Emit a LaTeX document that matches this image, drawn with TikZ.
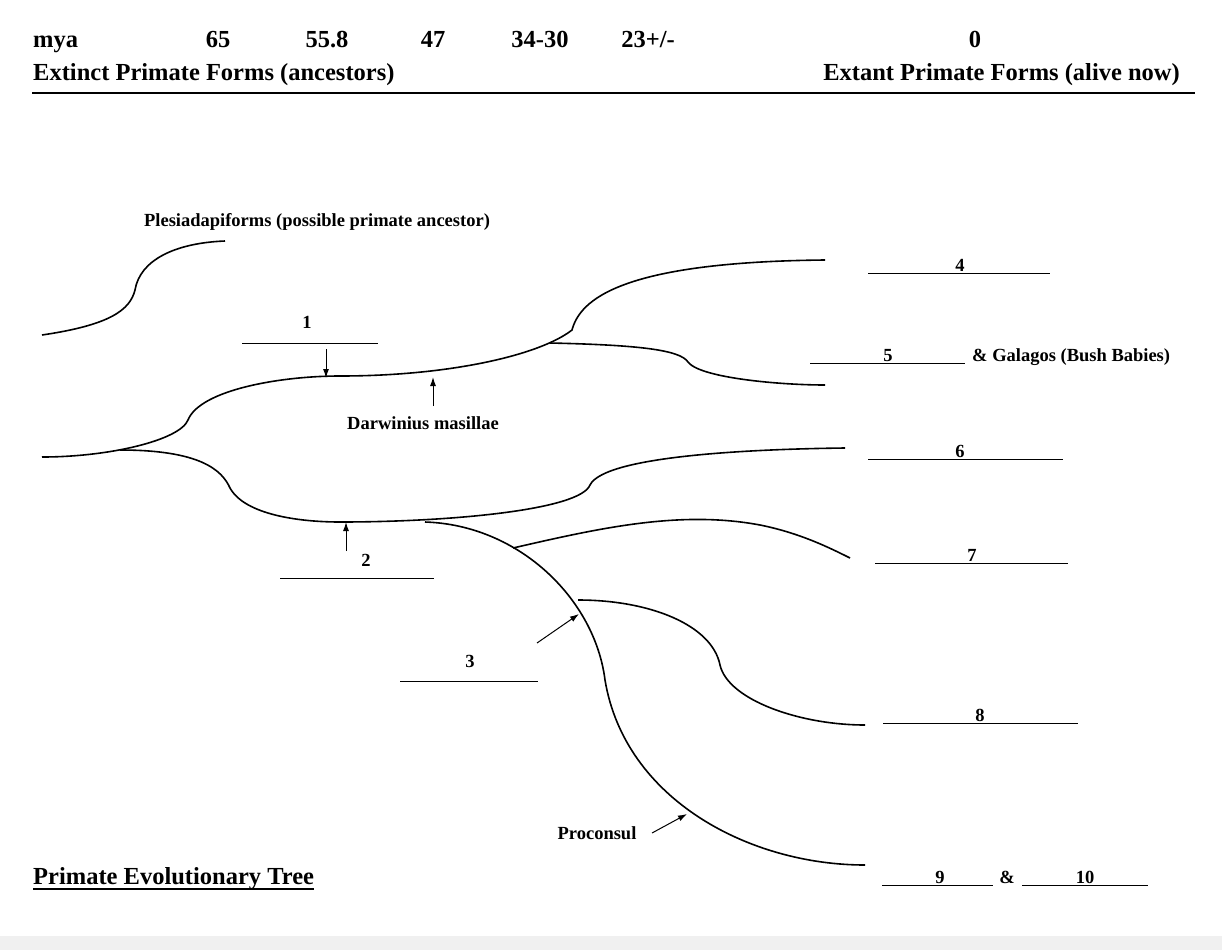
\documentclass[tikz,border=0pt]{standalone}
\usepackage{fontspec}
\usetikzlibrary{arrows.meta}
\setmainfont{Liberation Serif}
\begin{document}
\begin{tikzpicture}[x=1pt,y=-1pt,
  big/.style={font=\fontsize{24.5}{27}\selectfont\bfseries,inner sep=0pt},
  sm/.style={font=\fontsize{18.5}{20}\selectfont\bfseries,inner sep=0pt},
  br/.style={line width=1.6pt},
  bl/.style={line width=0.9pt},
  ar/.style={line width=1pt,-{Latex[length=9pt,width=6pt]}}]
\useasboundingbox (0,0) rectangle (1222,950);
\fill[gray!12] (0,936) rectangle (1222,950);
% header
\node[big,anchor=base west] (mya) at (33,48) {mya};
\node[big,anchor=base] (t65) at (218,48) {65};
\node[big,anchor=base] (t558) at (327,48) {55.8};
\node[big,anchor=base] (t47) at (433,48) {47};
\node[big,anchor=base] (t34) at (540,48) {34-30};
\node[big,anchor=base] (t23) at (648,48) {23+/-};
\node[big,anchor=base] (t0) at (975,48) {0};
\node[big,anchor=base west] (ext) at (33,81) {Extinct Primate Forms (ancestors)};
\node[big,anchor=base east] (alive) at (1180,81) {Extant Primate Forms (alive now)};
\coordinate (hl) at (32,93); \coordinate (hr) at (1195,93);
\draw[line width=1.3pt] (hl) -- (hr);
% curves
\draw[br] (42,335) .. controls (110,325) and (130,310) .. (135,290) .. controls (140,260) and (175,243) .. (225,241);
\draw[br] (42,457) .. controls (110,457) and (180,440) .. (188,420) .. controls (200,390) and (280,376) .. (340,376)
  .. controls (450,376) and (540,355) .. (572,330) .. controls (580,300) and (620,262) .. (825,260);
\draw[br] (550,343) .. controls (640,345) and (680,350) .. (688,362) .. controls (700,378) and (780,385) .. (825,385);
\draw[br] (120,450) .. controls (200,450) and (222,470) .. (230,488) .. controls (245,515) and (300,522) .. (340,522)
  .. controls (450,522) and (580,510) .. (590,485) .. controls (605,455) and (760,449) .. (845,448);
\draw[br] (425,522) .. controls (520,525) and (595,600) .. (605,680) .. controls (625,800) and (750,865) .. (865,865);
\draw[br] (513,548) .. controls (600,528) and (680,510) .. (760,525) .. controls (800,533) and (830,548) .. (850,558);
\draw[br] (578,600) .. controls (650,600) and (712,625) .. (720,665) .. controls (728,700) and (800,725) .. (865,725);
% arrows
\draw[ar] (326,349) -- (326,378);
\draw[ar] (433,406) -- (433,377);
\draw[ar] (346,551) -- (346,522);
\draw[ar] (537,643) -- (579,614);
\draw[ar] (652,833) -- (687,814);
% labels
\node[sm,anchor=base] (ples) at (317,226) {Plesiadapiforms (possible primate ancestor)};
\node[sm,anchor=base] (n1) at (307,328) {1};
\draw[bl] (242,343) -- (378,343);
\node[sm,anchor=base] (dar) at (423,429) {Darwinius masillae};
\node[sm,anchor=base] (n2) at (366,566) {2};
\draw[bl] (280,578) -- (434,578);
\node[sm,anchor=base] (n3) at (470,667) {3};
\draw[bl] (400,681) -- (538,681);
\node[sm,anchor=base] (pro) at (597,839) {Proconsul};
\node[sm,anchor=base] (n4) at (960,271) {4}; \draw[bl] (868,273) -- (1050,273);
\node[sm,anchor=base] (n5) at (888,361) {5}; \draw[bl] (810,363) -- (965,363);
\node[sm,anchor=base west] (gal) at (972,361) {\& Galagos (Bush Babies)};
\node[sm,anchor=base] (n6) at (960,457) {6}; \draw[bl] (868,459) -- (1063,459);
\node[sm,anchor=base] (n7) at (972,561) {7}; \draw[bl] (875,563) -- (1068,563);
\node[sm,anchor=base] (n8) at (980,721) {8}; \draw[bl] (883,723) -- (1078,723);
\node[sm,anchor=base] (n9) at (940,883) {9}; \draw[bl] (882,885) -- (993,885);
\node[sm,anchor=base] (amp) at (1007,883) {\&};
\node[sm,anchor=base] (n10) at (1085,883) {10}; \draw[bl] (1022,885) -- (1148,885);
\node[big,anchor=base west] (title) at (33,884) {Primate Evolutionary Tree};
\draw[line width=1.1pt] (33,889) -- (title.east |- 0,889);
\end{tikzpicture}
\end{document}
